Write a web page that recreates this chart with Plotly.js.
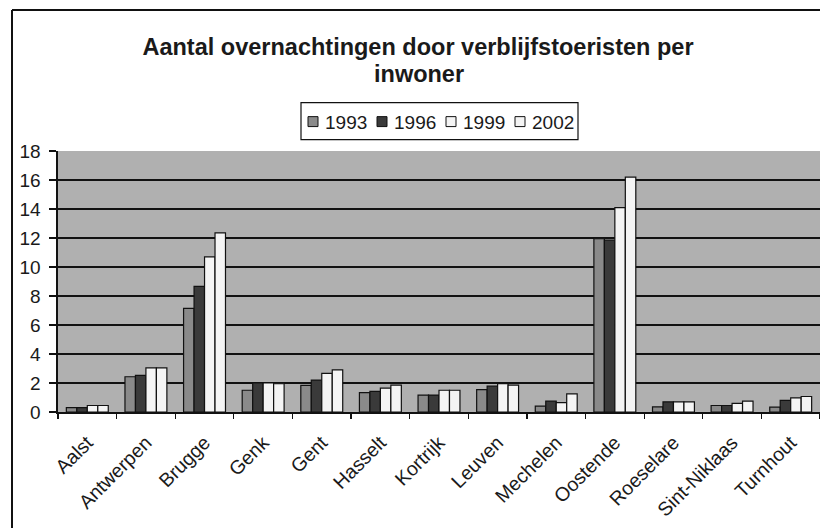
<!DOCTYPE html>
<html>
<head>
<meta charset="utf-8">
<script src="https://cdn.plot.ly/plotly-3.0.1.min.js"></script>
<style>
  html, body { margin: 0; padding: 0; background: #ffffff; }
  #chart { width: 820px; height: 528px; }
</style>
</head>
<body>
<div id="chart"></div>
<script>
const cities = ["Aalst", "Antwerpen", "Brugge", "Genk", "Gent", "Hasselt", "Kortrijk",
                "Leuven", "Mechelen", "Oostende", "Roeselare", "Sint-Niklaas", "Turnhout"];
const years = ["1993", "1996", "1999", "2002"];
const v1993 = [0.30, 2.43, 7.15, 1.50, 1.83, 1.33, 1.17, 1.55, 0.40, 11.95, 0.35, 0.45, 0.33];
const v1996 = [0.30, 2.52, 8.66, 2.00, 2.20, 1.42, 1.17, 1.78, 0.75, 11.85, 0.70, 0.45, 0.80];
const v1999 = [0.45, 3.05, 10.70, 2.00, 2.66, 1.65, 1.50, 1.96, 0.65, 14.10, 0.70, 0.60, 0.97];
const v2002 = [0.45, 3.05, 12.35, 1.95, 2.90, 1.85, 1.50, 1.85, 1.25, 16.20, 0.70, 0.75, 1.07];
const yTicks = [0, 2, 4, 6, 8, 10, 12, 14, 16, 18];
const titleLine1 = "Aantal overnachtingen door verblijfstoeristen per";
const titleLine2 = "inwoner";

const seriesValues = [v1993, v1996, v1999, v2002];
const seriesColors = ["#8a8a8a", "#3a3a3a", "#f4f4f4", "#f4f4f4"];

const traces = years.map((yr, i) => ({
  type: "bar",
  name: yr,
  x: cities,
  y: seriesValues[i],
  marker: { color: seriesColors[i], line: { color: "#111111", width: 1.2 } },
  hoverinfo: "x+y+name",
  showlegend: false
}));

// plot area: x 58..820, y 150.5..412.5
const L = 58, R = 0, T = 150.5, B = 528 - 412.5;
const pw = 820 - L - R, ph = 528 - T - B;
const px = (x) => (x - L) / pw;
const py = (y) => (528 - B - y) / ph;
const FONT = "Liberation Sans, Arial, sans-serif";

// Frame and legend box (Excel-style legend: swatch + label, one row)
const shapes = [
  { type: "line", xref: "paper", yref: "paper", x0: px(12), x1: px(12), y0: py(9), y1: py(540),
    line: { color: "#111111", width: 2 } },
  { type: "line", xref: "paper", yref: "paper", x0: px(12), x1: px(830), y0: py(9), y1: py(9),
    line: { color: "#111111", width: 2 } },
  { type: "rect", xref: "paper", yref: "paper", x0: px(301), x1: px(578), y0: py(139), y1: py(102),
    fillcolor: "#ffffff", line: { color: "#111111", width: 1.2 } }
];
const annotations = [
  { text: "<b>" + titleLine2 + "</b>", xref: "paper", yref: "paper",
    x: px(419), y: py(73), xanchor: "center", yanchor: "middle", showarrow: false,
    font: { size: 23.5, family: FONT, color: "#1a1a1a" } }
];
years.forEach((yr, i) => {
  const sx = 308 + i * 69;
  shapes.push({ type: "rect", xref: "paper", yref: "paper",
    x0: px(sx), x1: px(sx + 10), y0: py(126), y1: py(116),
    fillcolor: seriesColors[i], line: { color: "#111111", width: 1 } });
  annotations.push({ text: yr, xref: "paper", yref: "paper",
    x: px(sx + 15), y: py(121.5), xanchor: "left", yanchor: "middle", showarrow: false,
    font: { size: 19, family: FONT, color: "#1a1a1a" } });
});

const layout = {
  width: 820,
  height: 528,
  margin: { l: L, r: R, t: T, b: B, pad: 0 },
  paper_bgcolor: "#ffffff",
  plot_bgcolor: "#b0b0b0",
  font: { family: FONT, color: "#1a1a1a" },
  title: {
    text: "<b>" + titleLine1 + "</b>",
    font: { size: 23.5, family: FONT, color: "#1a1a1a" },
    xref: "container", x: 418 / 820, xanchor: "center",
    yref: "container", y: 1 - 47 / 528, yanchor: "middle"
  },
  annotations: annotations,
  barmode: "group",
  bargap: 0.285,
  bargroupgap: 0,
  showlegend: false,
  xaxis: {
    type: "category",
    showgrid: false,
    showline: true,
    linecolor: "#111111",
    linewidth: 1.6,
    ticks: "outside",
    tickson: "boundaries",
    ticklen: 5,
    tickwidth: 1.2,
    tickcolor: "#111111",
    tickangle: -45,
    ticklabelstandoff: 10,
    tickfont: { size: 19.5, family: FONT, color: "#1a1a1a" },
    fixedrange: true
  },
  yaxis: {
    range: [0, 18],
    tickvals: yTicks,
    ticktext: yTicks.map(String),
    showgrid: true,
    gridcolor: "#111111",
    gridwidth: 2,
    zeroline: false,
    showline: true,
    linecolor: "#111111",
    linewidth: 1.6,
    ticks: "outside",
    ticklen: 7,
    tickwidth: 1.2,
    tickcolor: "#111111",
    ticklabelstandoff: 5,
    tickfont: { size: 19, family: FONT, color: "#1a1a1a" },
    fixedrange: true
  },
  shapes: shapes
};

Plotly.newPlot("chart", traces, layout, { displayModeBar: false, staticPlot: true });
</script>
</body>
</html>
